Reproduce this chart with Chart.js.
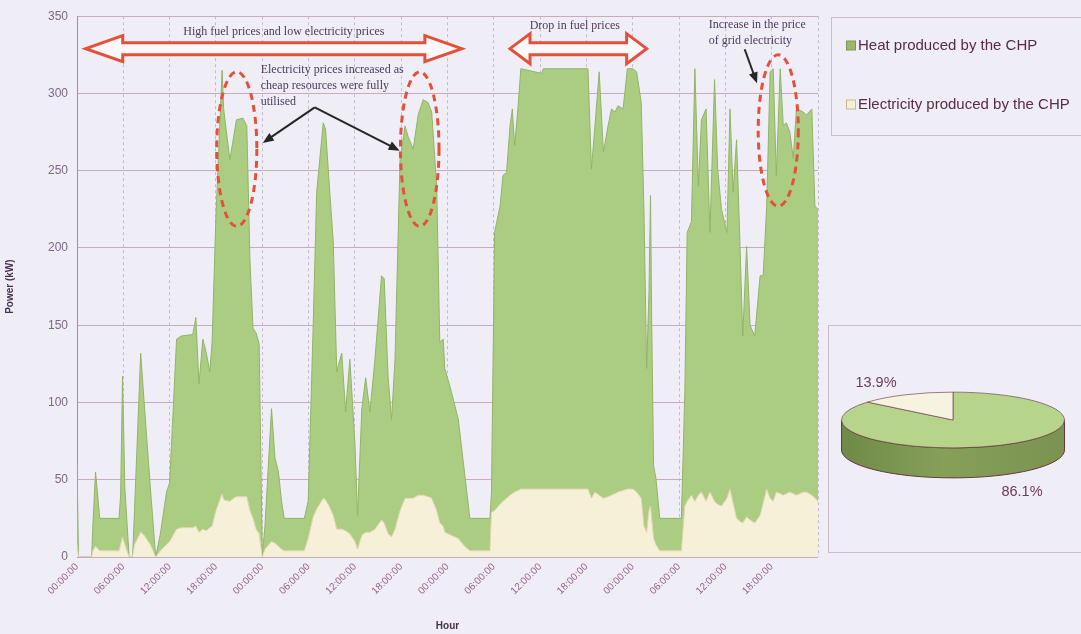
<!DOCTYPE html>
<html>
<head>
<meta charset="utf-8">
<title>CHP heat and electricity output</title>
<script src="https://cdn.jsdelivr.net/npm/chart.js@4.4.1/dist/chart.umd.min.js"></script>
<style>
  html, body { margin: 0; padding: 0; background: #efeef7; }
  #wrap { position: relative; width: 1081px; height: 634px; overflow: hidden; }
  #main { position: absolute; left: 0; top: 0; }
  #pieBox { position: absolute; left: 828px; top: 325px; width: 262px; height: 228px;
            border: 1px solid #cdbccb; box-sizing: border-box; }
  #pie { position: absolute; left: 838px; top: 305px; }
</style>
</head>
<body>
<div id="wrap">
  <canvas id="main" width="1081" height="634"></canvas>
  <div id="pieBox"></div>
  <canvas id="pie" width="230" height="230"></canvas>
</div>
<script>
// Hours since the start of the four-day run
const hours = [
  0, 0.2, 1.9, 2.05, 2.4, 2.95, 5.45, 5.65, 5.9, 6.2, 6.75, 7.2, 7.45, 8.25, 8.7, 9.5, 10.2, 10.8,
  11.6, 12.0, 12.9, 13.5, 15.0, 15.4, 15.8, 16.3, 16.75, 17.2, 17.5, 18.0, 18.8, 19.0, 19.8, 20.3,
  20.65, 21.5, 22.0, 22.4, 22.8, 23.2, 23.6, 24.0,
  24.35, 25.2, 25.65, 26.1, 26.5, 26.85, 29.45, 29.95, 30.6, 31.05, 31.9, 32.2, 32.75, 33.2, 33.65,
  34.3, 34.8, 35.35, 36.0, 36.35, 36.9, 37.4, 37.95, 38.6, 39.45, 39.8, 40.3, 40.75, 41.2, 41.85,
  42.5, 42.9, 43.55, 44.2, 44.85, 45.5, 45.95, 46.6, 47.0, 47.45,
  47.65, 48.5, 49.4, 50.2, 50.9, 53.5, 53.7, 54.1, 54.8, 55.2, 55.65, 56.1, 56.4, 56.7, 57.15, 57.5,
  60.2, 60.4, 66.2, 66.65, 67.1, 67.65, 68.2, 68.8, 69.25, 69.7, 70.1, 70.75, 71.3,
  72.0, 72.5, 73.1, 73.45, 73.8, 74.1, 74.3, 74.45, 74.7, 75.0, 75.5, 78.3, 78.75, 79.05, 79.6,
  80.05, 80.5, 80.9, 81.5, 82.0, 82.6, 83.0, 83.5, 84.2, 84.6, 85.0, 85.45, 85.9, 86.25, 86.75,
  87.2, 87.8, 88.5, 88.9, 89.35, 89.8, 90.2, 90.6, 91.1, 91.5, 91.9, 92.35, 92.8, 93.2, 94.1,
  94.5, 95.2, 95.6, 96.0
];

// Heat produced by the CHP (kW)
const heat = [
  52, 0, 0, 16, 48, 21, 21, 32, 104, 37, 0, 0, 22, 116, 86, 37, 0, 11,
  34, 38, 123, 124, 125, 135, 96, 123, 115, 101, 119, 191, 274, 253, 221, 234,
  244, 245, 240, 163, 123, 127, 123, 0,
  15, 86, 55, 48, 31, 21, 21, 24, 124, 205, 243, 240, 204, 177, 102,
  114, 77, 113, 64, 22, 82, 100, 78, 110, 158, 158, 102, 76, 110, 227,
  241, 234, 226, 246, 256, 255, 250, 210, 117, 121,
  106, 93, 77, 48, 21, 21, 13, 180, 193, 211, 211, 239, 249, 224, 249, 272,
  269, 272, 272, 213, 237, 274, 224, 240, 250, 247, 250, 247, 272,
  272, 272, 256, 205, 106, 141, 201, 129, 47, 43, 21, 21, 74, 174, 177,
  280, 200, 241, 254, 168, 273, 217, 192, 172, 246, 201, 245, 178, 121, 175,
  126, 121, 155, 147, 183, 276, 280, 205, 275, 239, 240, 233, 217, 250, 246,
  244, 250, 189, 189
];

// Electricity produced by the CHP (kW)
const electricity = [
  8, 0, 0, 4, 7, 4, 4, 8, 13, 8, 0, 0, 8, 16, 14, 8, 0, 4,
  8, 10, 18, 19, 19, 20, 16, 18, 17, 19, 20, 30, 41, 37, 36, 38,
  39, 39, 39, 30, 25, 18, 15, 0,
  5, 10, 9, 7, 5, 4, 4, 12, 26, 31, 38, 37, 32, 27, 18,
  18, 17, 15, 10, 5, 14, 16, 16, 18, 24, 22, 15, 13, 18, 30,
  38, 38, 38, 40, 40, 39, 38, 30, 22, 20,
  16, 14, 12, 7, 4, 4, 29, 30, 34, 36, 38, 40, 41, 42, 43, 44,
  44, 44, 44, 38, 42, 40, 38, 39, 40, 41, 42, 43, 44,
  44, 42, 38, 20, 16, 30, 33, 25, 12, 8, 4, 4, 33, 36, 40,
  36, 40, 42, 36, 42, 36, 34, 33, 38, 44, 35, 25, 23, 22, 26,
  24, 22, 27, 35, 44, 38, 36, 42, 41, 40, 41, 42, 41, 40, 42,
  42, 40, 38, 36
];

const seriesNames = ['Heat produced by the CHP', 'Electricity produced by the CHP'];
const xTickLabels = [
  '00:00:00', '06:00:00', '12:00:00', '18:00:00',
  '00:00:00', '06:00:00', '12:00:00', '18:00:00',
  '00:00:00', '06:00:00', '12:00:00', '18:00:00',
  '00:00:00', '06:00:00', '12:00:00', '18:00:00'
];
const pieShares = [86.1, 13.9];   // heat, electricity (% of total output)

const COLORS = {
  heat: '#abcd82', heatEdge: '#93b368',
  elec: '#f6f0d9', elecEdge: '#e0d4ae',
  tickX: '#955d8b', tickY: '#7c6883', title: '#4a3050',
  hGrid: '#c9abbf', vGrid: '#c6bad0', axis: '#a88aa0',
  note: '#4c3b5c', red: '#e5503a', ink: '#262626',
  legendText: '#5a2a48', box: '#cdbccb'
};

// Price-period annotations drawn over the stacked areas (data coordinates)
const notes = {
  spans: [
    { from: 1.13, to: 49.86, v: 329, head: 37, headHalf: 13, shaftHalf: 6 },
    { from: 56.1, to: 73.8, v: 329, head: 20, headHalf: 15, shaftHalf: 6 }
  ],
  rings: [
    { h: 20.7, v: 264, rh: 2.6, rv: 50 },
    { h: 44.4, v: 264, rh: 2.5, rv: 50 },
    { h: 90.85, v: 276, rh: 2.6, rv: 49 }
  ],
  pointers: [
    { from: [30.8, 291], to: [24.07, 268] },
    { from: [30.8, 291], to: [41.8, 263] },
    { from: [86.5, 328.6], to: [88.1, 306.6] }
  ],
  labels: [
    { h: 26.8, v: 339.6, align: 'center', lines: ['High fuel prices and low electricity prices'] },
    { h: 64.5, v: 343.5, align: 'center', lines: ['Drop in fuel prices'] },
    { h: 81.85, v: 344.1, align: 'left', lines: ['Increase in the price', 'of grid electricity'] },
    { h: 23.8, v: 315, align: 'left', lines: ['Electricity prices increased as', 'cheap resources were fully', 'utilised'] }
  ]
};

const notesPlugin = {
  id: 'priceNotes',
  afterDatasetsDraw(chart) {
    const { ctx, scales: { x, y } } = chart;
    const px = h => x.getPixelForValue(h);
    const py = v => y.getPixelForValue(v);
    ctx.save();

    // hollow double-headed block arrows
    notes.spans.forEach(s => {
      const x1 = px(s.from), x2 = px(s.to), cy = py(s.v);
      ctx.beginPath();
      ctx.moveTo(x1, cy);
      ctx.lineTo(x1 + s.head, cy - s.headHalf);
      ctx.lineTo(x1 + s.head, cy - s.shaftHalf);
      ctx.lineTo(x2 - s.head, cy - s.shaftHalf);
      ctx.lineTo(x2 - s.head, cy - s.headHalf);
      ctx.lineTo(x2, cy);
      ctx.lineTo(x2 - s.head, cy + s.headHalf);
      ctx.lineTo(x2 - s.head, cy + s.shaftHalf);
      ctx.lineTo(x1 + s.head, cy + s.shaftHalf);
      ctx.lineTo(x1 + s.head, cy + s.headHalf);
      ctx.closePath();
      ctx.fillStyle = '#fbf8fb';
      ctx.fill();
      ctx.lineWidth = 3;
      ctx.lineJoin = 'miter';
      ctx.strokeStyle = COLORS.red;
      ctx.stroke();
    });

    // dashed rings around the price-driven peaks
    ctx.setLineDash([7, 5]);
    ctx.lineWidth = 3;
    ctx.strokeStyle = COLORS.red;
    notes.rings.forEach(r => {
      const cx = px(r.h), cy = py(r.v);
      const rx = Math.abs(px(r.h + r.rh) - cx), ry = Math.abs(py(r.v + r.rv) - cy);
      ctx.beginPath();
      ctx.ellipse(cx, cy, rx, ry, 0, 0, Math.PI * 2);
      ctx.stroke();
    });
    ctx.setLineDash([]);

    // black pointer arrows
    notes.pointers.forEach(p => {
      const ax = px(p.from[0]), ay = py(p.from[1]);
      const bx = px(p.to[0]), by = py(p.to[1]);
      const ang = Math.atan2(by - ay, bx - ax);
      const len = 11, wid = 4.5;
      ctx.strokeStyle = COLORS.ink;
      ctx.fillStyle = COLORS.ink;
      ctx.lineWidth = 2;
      ctx.beginPath();
      ctx.moveTo(ax, ay);
      ctx.lineTo(bx - Math.cos(ang) * len * 0.8, by - Math.sin(ang) * len * 0.8);
      ctx.stroke();
      ctx.beginPath();
      ctx.moveTo(bx, by);
      ctx.lineTo(bx - Math.cos(ang) * len - Math.sin(ang) * wid, by - Math.sin(ang) * len + Math.cos(ang) * wid);
      ctx.lineTo(bx - Math.cos(ang) * len + Math.sin(ang) * wid, by - Math.sin(ang) * len - Math.cos(ang) * wid);
      ctx.closePath();
      ctx.fill();
    });

    // captions
    ctx.font = '12px "Liberation Serif", "Times New Roman", serif';
    ctx.fillStyle = COLORS.note;
    ctx.textBaseline = 'middle';
    notes.labels.forEach(l => {
      ctx.textAlign = l.align;
      l.lines.forEach((t, i) => ctx.fillText(t, px(l.h), py(l.v) + i * 15.6));
    });
    ctx.restore();
  },
  afterDraw(chart) {
    // legend panel to the right of the plot
    const { ctx } = chart;
    const items = [
      { ds: chart.data.datasets[1], y: 45.5, edge: '#7f9552' },
      { ds: chart.data.datasets[0], y: 104.5, edge: '#c8b895' }
    ];
    ctx.save();
    ctx.strokeStyle = COLORS.box;
    ctx.lineWidth = 1;
    ctx.strokeRect(831.5, 17.5, 262, 118);
    ctx.font = '15px "Liberation Sans", Arial, sans-serif';
    ctx.textBaseline = 'middle';
    ctx.textAlign = 'left';
    items.forEach(it => {
      ctx.fillStyle = it.ds === chart.data.datasets[1] ? '#9db86a' : it.ds.backgroundColor;
      ctx.fillRect(846.5, it.y - 4.5, 9, 9);
      ctx.strokeStyle = it.edge;
      ctx.strokeRect(846.5, it.y - 4.5, 9, 9);
      ctx.fillStyle = COLORS.legendText;
      ctx.fillText(it.ds.label, 858, it.y + 0.5);
    });
    ctx.restore();
  }
};

const toPoints = arr => hours.map((h, i) => ({ x: h, y: arr[i] }));

new Chart(document.getElementById('main'), {
  type: 'line',
  data: {
    datasets: [
      {
        label: seriesNames[1], data: toPoints(electricity), fill: 'origin',
        backgroundColor: COLORS.elec, borderColor: COLORS.elecEdge, borderWidth: 1,
        pointRadius: 0, tension: 0
      },
      {
        label: seriesNames[0], data: toPoints(heat), fill: '-1',
        backgroundColor: COLORS.heat, borderColor: COLORS.heatEdge, borderWidth: 1,
        pointRadius: 0, tension: 0
      }
    ]
  },
  options: {
    responsive: false, animation: false, devicePixelRatio: 1,
    layout: { padding: { top: 10, right: 263, bottom: 0, left: 0 } },
    plugins: { legend: { display: false }, tooltip: { enabled: false } },
    scales: {
      x: {
        type: 'linear', min: 0, max: 96,
        ticks: {
          stepSize: 6, autoSkip: false, maxRotation: 45, minRotation: 45, padding: 4,
          color: COLORS.tickX, font: { family: '"Liberation Sans", Arial, sans-serif', size: 10 },
          callback: (v, i) => xTickLabels[i] ?? ''
        },
        grid: { color: COLORS.vGrid, drawTicks: false, lineWidth: 1 },
        border: { display: false, dash: [3, 3] },
        title: {
          display: true, text: 'Hour', color: COLORS.title, padding: { top: 0, bottom: 2 },
          font: { family: '"Liberation Sans", Arial, sans-serif', size: 10, weight: 'bold' }
        },
        afterFit(s) { s.height = 77; }
      },
      y: {
        stacked: true, min: 0, max: 350,
        ticks: {
          stepSize: 50, padding: 9, color: COLORS.tickY,
          font: { family: '"Liberation Sans", Arial, sans-serif', size: 12 }
        },
        grid: { color: COLORS.hGrid, drawTicks: false, lineWidth: 1 },
        border: { color: COLORS.axis, width: 1 },
        title: {
          display: true, text: 'Power (kW)', color: COLORS.title, padding: 4,
          font: { family: '"Liberation Sans", Arial, sans-serif', size: 10, weight: 'bold' }
        },
        afterFit(s) { s.width = 77; }
      }
    }
  },
  plugins: [notesPlugin]
});

// 3-D style share pie: squashed top face with an extruded rim
const PIE = { squash: 0.25, depth: 30 };
const pieLabelSpots = [{ dx: 69, dy: 72 }, { dx: -77, dy: -37 }];

const pie3d = {
  id: 'pie3d',
  beforeDatasetsDraw(chart) {
    const { ctx } = chart;
    const arc = chart.getDatasetMeta(0).data[0];
    const cx = arc.x, cy = arc.y, r = arc.outerRadius, ry = r * PIE.squash;
    ctx.save();
    ctx.beginPath();
    ctx.ellipse(cx, cy, r, ry, 0, 0, Math.PI, false);
    ctx.ellipse(cx, cy + PIE.depth, r, ry, 0, Math.PI, 0, true);
    ctx.closePath();
    const g = ctx.createLinearGradient(cx - r, 0, cx + r, 0);
    g.addColorStop(0, '#6f8a47');
    g.addColorStop(0.45, '#86a058');
    g.addColorStop(1, '#7a9350');
    ctx.fillStyle = g;
    ctx.fill();
    ctx.strokeStyle = '#6b3545';
    ctx.lineWidth = 1;
    ctx.stroke();
    ctx.restore();
    ctx.save();
    ctx.translate(cx, cy);
    ctx.scale(1, PIE.squash);
    ctx.translate(-cx, -cy);
  },
  afterDatasetsDraw(chart) {
    const { ctx } = chart;
    ctx.restore();
    const arc = chart.getDatasetMeta(0).data[0];
    ctx.save();
    ctx.font = '14.5px "Liberation Sans", Arial, sans-serif';
    ctx.fillStyle = '#6b3a5c';
    ctx.textAlign = 'center';
    ctx.textBaseline = 'middle';
    pieShares.forEach((s, i) => {
      ctx.fillText(s.toFixed(1) + '%', arc.x + pieLabelSpots[i].dx, arc.y + pieLabelSpots[i].dy);
    });
    ctx.restore();
  }
};

new Chart(document.getElementById('pie'), {
  type: 'pie',
  data: {
    labels: seriesNames,
    datasets: [{
      data: pieShares,
      backgroundColor: ['#b6d58b', '#f7f3e1'],
      borderColor: '#6b3545', borderWidth: 1
    }]
  },
  options: {
    responsive: false, animation: false, devicePixelRatio: 1,
    layout: { padding: 3 },
    plugins: { legend: { display: false }, tooltip: { enabled: false } }
  },
  plugins: [pie3d]
});
</script>
</body>
</html>
